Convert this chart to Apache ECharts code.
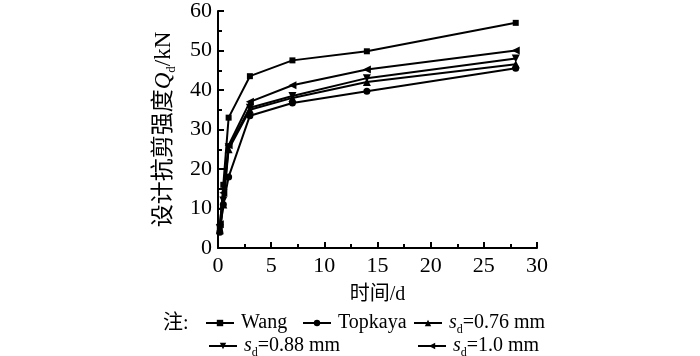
<!DOCTYPE html>
<html>
<head>
<meta charset="utf-8">
<script src="https://cdn.jsdelivr.net/npm/echarts@6/dist/echarts.min.js"></script>
<style>html,body{margin:0;padding:0;background:#fff;}#c{width:700px;height:356px;}</style>
</head>
<body>
<div id="c"></div>
<script>
var times = [0.17, 0.5, 1, 3, 7, 14, 28];
var wang = [5, 16, 33, 43.5, 47.5, 49.8, 57];
var topkaya = [4, 11, 18, 33.5, 36.7, 39.7, 45.5];
var sd076 = [4.5, 11, 25, 35, 38, 42, 46.5];
var sd088 = [5, 12, 25.5, 35.5, 38.5, 43, 48];
var sd100 = [6, 14, 26, 37, 41.2, 45.2, 50];
var seriesNames = ['Wang', 'Topkaya', 'sd=0.76 mm', 'sd=0.88 mm', 'sd=1.0 mm'];
var legendLabels = {
  'Wang': 'Wang',
  'Topkaya': 'Topkaya',
  'sd=0.76 mm': '{i|s}{sub|d}=0.76 mm',
  'sd=0.88 mm': '{i|s}{sub|d}=0.88 mm',
  'sd=1.0 mm': '{i|s}{sub|d}=1.0 mm'
};
var xTicks = [0, 5, 10, 15, 20, 25, 30];
var yTicks = [0, 10, 20, 30, 40, 50, 60];

var serif = '"Liberation Serif", "Times New Roman", serif';
var cjk = '"Liberation Serif", "Noto Sans CJK SC", serif';

function pairs(vals) { return times.map(function (t, i) { return [t, vals[i]]; }); }

var symbols = [
  {symbol: 'rect', size: 6, rot: 0},
  {symbol: 'circle', size: 7, rot: 0},
  {symbol: 'triangle', size: 8, rot: 0},
  {symbol: 'triangle', size: 8, rot: 180},
  {symbol: 'triangle', size: 8, rot: 90}
];
var allData = [wang, topkaya, sd076, sd088, sd100];

var series = seriesNames.map(function (n, i) {
  return {
    name: n, type: 'line', data: pairs(allData[i]),
    symbol: symbols[i].symbol, symbolSize: symbols[i].size, symbolRotate: symbols[i].rot,
    showAllSymbol: true,
    lineStyle: {color: '#000', width: 2},
    itemStyle: {color: '#000', borderWidth: 0},
    animation: false
  };
});

var richLegend = {
  i: {fontFamily: serif, fontStyle: 'italic', fontSize: 20, color: '#000', lineHeight: 26, verticalAlign: 'middle'},
  sub: {fontFamily: serif, fontSize: 12, color: '#000', verticalAlign: 'bottom', lineHeight: 12}
};
function mkLegend(name, left, top) {
  return {
    data: [name], left: left, top: top, orient: 'horizontal',
    itemWidth: 28, itemHeight: 8, itemGap: 0,
    textStyle: {fontFamily: serif, fontSize: 20, color: '#000', padding: [0, 0, 0, 2], rich: richLegend},
    formatter: function (nm) { return legendLabels[nm]; },
    selectedMode: false
  };
}

var chart = echarts.init(document.getElementById('c'), null, {renderer: 'canvas'});
chart.setOption({
  backgroundColor: '#fff',
  animation: false,
  grid: {left: 218, right: 163, top: 8, bottom: 108, containLabel: false},
  xAxis: {
    type: 'value', min: 0, max: 30, interval: 5,
    name: '时间/d', nameLocation: 'middle', nameGap: 37,
    nameTextStyle: {fontFamily: cjk, fontSize: 20, color: '#000'},
    axisLine: {lineStyle: {color: '#000', width: 2}},
    axisTick: {inside: true, length: 6, lineStyle: {color: '#000', width: 2}},
    minorTick: {show: true, splitNumber: 2, length: 4, lineStyle: {color: '#000', width: 2}},
    axisLabel: {fontFamily: serif, fontSize: 22, color: '#000', margin: 7,
      formatter: function (v) { return xTicks.indexOf(v) >= 0 ? String(v) : ''; }},
    splitLine: {show: false}
  },
  yAxis: {
    type: 'value', min: 0, max: 60, interval: 10,
    name: '设计抗剪强度{q|Q}{sub|d}/kN', nameLocation: 'middle', nameGap: 40, nameRotate: 90,
    nameTextStyle: {fontFamily: cjk, fontSize: 23, color: '#000',
      rich: {
        q: {fontFamily: serif, fontStyle: 'italic', fontSize: 23, color: '#000', lineHeight: 28},
        sub: {fontFamily: serif, fontSize: 13, color: '#000', verticalAlign: 'bottom', lineHeight: 13}
      }},
    axisLine: {show: true, lineStyle: {color: '#000', width: 2}},
    axisTick: {show: true, inside: true, length: 6, lineStyle: {color: '#000', width: 2}},
    minorTick: {show: true, splitNumber: 2, length: 4, lineStyle: {color: '#000', width: 2}},
    axisLabel: {fontFamily: serif, fontSize: 22, color: '#000', margin: 6,
      formatter: function (v) { return yTicks.indexOf(v) >= 0 ? String(v) : ''; }},
    splitLine: {show: false}
  },
  legend: [
    mkLegend('Wang', 200, 308),
    mkLegend('Topkaya', 297, 308),
    mkLegend('sd=0.76 mm', 408, 308),
    mkLegend('sd=0.88 mm', 203, 331),
    mkLegend('sd=1.0 mm', 412, 331)
  ],
  graphic: [{
    type: 'text', left: 163, top: 314,
    style: {text: '注:', font: '20px ' + cjk, fill: '#000'}
  }],
  series: series
});
</script>
</body>
</html>
